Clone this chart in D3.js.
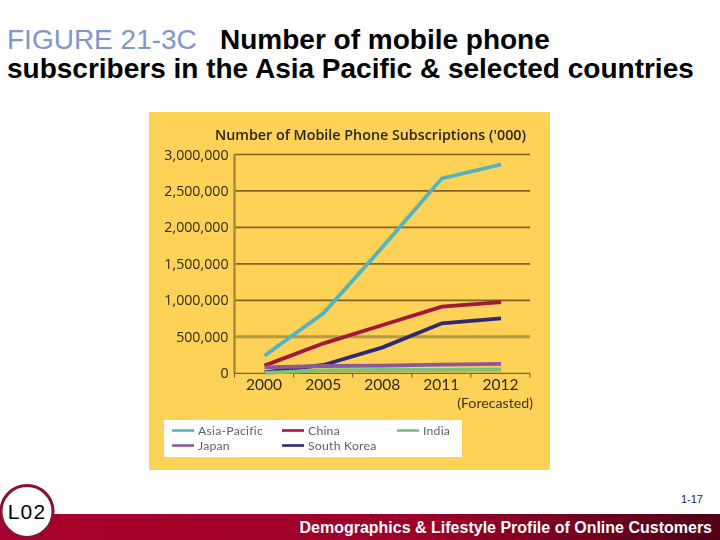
<!DOCTYPE html>
<html><head><meta charset="utf-8">
<script src="https://cdnjs.cloudflare.com/ajax/libs/d3/7.8.5/d3.min.js"></script>
<style>html,body{margin:0;padding:0;background:#fff}svg{display:block}</style>
</head><body><svg id="c" width="720" height="540"></svg>
<script>
const years = ["2000","2005","2008","2011","2012"];
const yTicks = [0,500000,1000000,1500000,2000000,2500000,3000000];
const asiaPacific = [240000,826000,1734000,2673000,2863000];
const china = [105000,411000,662000,913000,977000];
const southKorea = [14000,114000,356000,685000,753000];
const japan = [82000,100000,105000,119000,128000];
const india = [5000,40000,45000,48000,52000];
const seriesNames = ["Asia-Pacific","China","India","Japan","South Korea"];
const seriesColors = ["#4fb4c4","#a5143c","#7cc07a","#8a5a9c","#2f2a78"];
const drawOrder = [0,1,4,2,3];
const allValues = [asiaPacific,china,india,japan,southKorea];

const svg = d3.select("#c");
const defs = svg.append("defs");
const g = defs.append("linearGradient").attr("id","bar");
g.append("stop").attr("offset","0").attr("stop-color","#a8002c");
g.append("stop").attr("offset","0.6").attr("stop-color","#9c0029");
g.append("stop").attr("offset","1").attr("stop-color","#4e0016");
defs.append("filter").attr("id","soft").attr("x","0").attr("y","0").attr("width","1").attr("height","1")
  .append("feGaussianBlur").attr("stdDeviation",0.6);

// heading
const head = svg.append("g").attr("font-family","'Liberation Sans',Arial,sans-serif").attr("font-size",28);
const l1 = head.append("text").attr("x",7).attr("y",49);
l1.append("tspan").attr("fill","#7f97c9").text("FIGURE 21-3C");
l1.append("tspan").attr("x",220).attr("font-weight","bold").attr("fill","#000").text("Number of mobile phone");
head.append("text").attr("x",7).attr("y",78).attr("font-weight","bold").attr("fill","#000")
  .text("subscribers in the Asia Pacific & selected countries");

// chart panel
const panel = svg.append("g").attr("filter","url(#soft)");
panel.append("rect").attr("x",149).attr("y",112).attr("width",401).attr("height",358).attr("fill","#fdd257");

const x = d3.scalePoint().domain(years).range([264.5,501]);
const xBand = d3.scaleBand().domain(years).range([234.5,530]);
const y = d3.scaleLinear().domain([0,3000000]).range([373.3,154.5]);
const gridColor = "#7f6424";
const labelFont = "'Open Sans',sans-serif";
const smallFont = "Lato,sans-serif";

panel.append("g").selectAll("line").data(yTicks).join("line")
  .attr("x1",234.5).attr("x2",530)
  .attr("y1",d=>y(d)).attr("y2",d=>y(d))
  .attr("stroke",d=>d===500000?"#b59a45":gridColor)
  .attr("stroke-width",d=>d===500000?3:d===0?1.2:1.7);

panel.append("line").attr("x1",234.5).attr("x2",234.5).attr("y1",y(3000000)).attr("y2",y(0))
  .attr("stroke","#a88c3a").attr("stroke-width",2.4);

const xAxis = d3.axisBottom(xBand).tickSize(0).tickPadding(6);
const xg = panel.append("g").attr("transform","translate(0,373.3)").call(xAxis);
xg.select(".domain").remove();
xg.selectAll("text").attr("font-family",smallFont).attr("font-size",15.5).attr("fill","#2f2b1c");
panel.append("g").selectAll("line").data(d3.range(6)).join("line")
  .attr("x1",i=>234.5+i*xBand.step()).attr("x2",i=>234.5+i*xBand.step())
  .attr("y1",373.3).attr("y2",377.5).attr("stroke","#6d5a20").attr("stroke-width",1);

const yAxis = d3.axisLeft(y).tickValues(yTicks).tickSize(0).tickPadding(6).tickFormat(d3.format(","));
const yg = panel.append("g").attr("transform","translate(234.5,0)").call(yAxis);
yg.select(".domain").remove();
yg.selectAll("text").attr("font-family",labelFont).attr("font-size",14.2).attr("fill","#2f2b1c");

panel.append("text").attr("x",215).attr("y",140).attr("font-family",labelFont)
  .attr("font-size",14.3).attr("font-weight","600").attr("fill","#2a2618").text("Number of Mobile Phone Subscriptions ('000)");
panel.append("text").attr("x",533).attr("y",408).attr("text-anchor","end").attr("font-family",smallFont)
  .attr("font-size",14.2).attr("fill","#3a3522").text("(Forecasted)");

const line = d3.line().x((d,i)=>x(years[i])).y(d=>y(d));
panel.append("g").attr("fill","none").attr("stroke-width",3.8).selectAll("path").data(drawOrder).join("path")
  .attr("d",i=>line(allValues[i])).attr("stroke",i=>seriesColors[i]);

// legend
panel.append("rect").attr("x",164).attr("y",420).attr("width",298).attr("height",37).attr("fill","#fff");
const legendCol = [172,282,397,172,282];
const legendRow = [430.5,430.5,430.5,445.5,445.5];
const leg = panel.append("g").selectAll("g").data(seriesNames).join("g")
  .attr("transform",(d,i)=>`translate(${legendCol[i]},${legendRow[i]})`);
leg.append("line").attr("x1",0).attr("x2",22).attr("stroke",(d,i)=>seriesColors[i]).attr("stroke-width",2.6);
leg.append("text").attr("x",26).attr("y",4.5).attr("font-family",smallFont).attr("font-size",12.2)
  .attr("letter-spacing",0.25).attr("fill","#5e5e68").text(d=>d);

// footer
svg.append("rect").attr("x",0).attr("y",514).attr("width",720).attr("height",26).attr("fill","url(#bar)");
svg.append("circle").attr("cx",27).attr("cy",511.5).attr("r",26).attr("fill","#fff").attr("stroke","#8f0f33").attr("stroke-width",3);
svg.append("text").attr("x",27).attr("y",519).attr("text-anchor","middle").attr("font-family","'Liberation Sans',Arial,sans-serif")
  .attr("font-size",21).attr("letter-spacing",1.2).attr("fill","#000").text("L02");
svg.append("text").attr("x",703).attr("y",503).attr("text-anchor","end").attr("font-family","'Liberation Sans',Arial,sans-serif")
  .attr("font-size",11).attr("fill","#222").text("1-17");
svg.append("text").attr("x",712).attr("y",533).attr("text-anchor","end").attr("font-family","'Liberation Sans',Arial,sans-serif")
  .attr("font-size",16).attr("font-weight","bold").attr("fill","#fff").text("Demographics & Lifestyle Profile of Online Customers");
</script></body></html>
